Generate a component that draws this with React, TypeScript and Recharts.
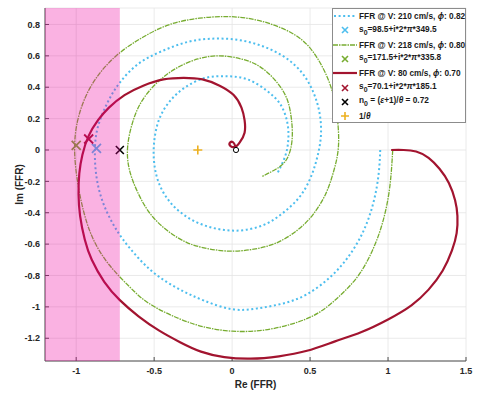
import { ScatterChart, Scatter, XAxis, YAxis, CartesianGrid, ReferenceArea } from 'recharts'

type Pt = { x: number; y: number }
const toPts = (a: number[][]): Pt[] => a.map(([x, y]) => ({ x, y }))

const xTicks = [-1, -0.5, 0, 0.5, 1, 1.5]
const yTicks = [-1.2, -1, -0.8, -0.6, -0.4, -0.2, 0, 0.2, 0.4, 0.6, 0.8]
const X_MIN = -1.2
const X_MAX = 1.5
const Y_MIN = -1.345
const Y_MAX = 0.905
const N0_EDGE = -0.72

// FFR @ V: 210 cm/s
const ffr210 = [
  [0.95, 0.0], [0.94, -0.15], [0.91, -0.32], [0.85, -0.5], [0.76, -0.66], [0.64, -0.8],
  [0.48, -0.92], [0.32, -0.98], [0.16, -1.01], [0.0, -1.015], [-0.18, -0.96], [-0.334, -0.89],
  [-0.48, -0.8], [-0.6, -0.69], [-0.7, -0.57], [-0.77, -0.46], [-0.83, -0.33], [-0.87, -0.17],
  [-0.88, 0.0], [-0.86, 0.15], [-0.8, 0.3], [-0.72, 0.43], [-0.6, 0.55], [-0.45, 0.63],
  [-0.28, 0.69], [-0.11, 0.71], [0.05, 0.7], [0.2, 0.66], [0.34, 0.59], [0.45, 0.49],
  [0.52, 0.37], [0.56, 0.24], [0.57, 0.1], [0.55, -0.03], [0.51, -0.16], [0.44, -0.29],
  [0.34, -0.39], [0.22, -0.47], [0.08, -0.51], [-0.05, -0.51], [-0.18, -0.48], [-0.3, -0.42],
  [-0.4, -0.33], [-0.47, -0.21], [-0.5, -0.08], [-0.5, 0.05], [-0.47, 0.19], [-0.4, 0.31],
  [-0.3, 0.4], [-0.17, 0.46], [-0.03, 0.47], [0.1, 0.45], [0.22, 0.38], [0.31, 0.29],
  [0.355, 0.17], [0.36, 0.06], [0.34, -0.04], [0.29, -0.15],
]

// FFR @ V: 218 cm/s
const ffr218 = [
  [1.03, 0.0], [1.02, -0.15], [1.0, -0.31], [0.96, -0.48], [0.9, -0.64], [0.81, -0.8],
  [0.69, -0.93], [0.55, -1.04], [0.38, -1.11], [0.19, -1.15], [0.0, -1.155], [-0.17, -1.13],
  [-0.34, -1.075], [-0.53, -0.98], [-0.66, -0.87], [-0.79, -0.73], [-0.89, -0.57], [-0.95, -0.4],
  [-0.99, -0.21], [-1.01, 0.0], [-0.99, 0.19], [-0.93, 0.36], [-0.84, 0.5], [-0.72, 0.62],
  [-0.57, 0.72], [-0.4, 0.8], [-0.21, 0.84], [-0.02, 0.85], [0.15, 0.83], [0.31, 0.78],
  [0.45, 0.7], [0.55, 0.58], [0.62, 0.44], [0.66, 0.3], [0.68, 0.15], [0.68, 0.0],
  [0.65, -0.14], [0.6, -0.28], [0.52, -0.41], [0.42, -0.51], [0.29, -0.59], [0.15, -0.63],
  [0.0, -0.645], [-0.15, -0.63], [-0.29, -0.59], [-0.42, -0.51], [-0.53, -0.4], [-0.61, -0.26],
  [-0.66, -0.12], [-0.67, 0.02], [-0.64, 0.17], [-0.58, 0.31], [-0.48, 0.43], [-0.36, 0.52],
  [-0.22, 0.58], [-0.08, 0.6], [0.06, 0.58], [0.18, 0.53], [0.28, 0.44], [0.35, 0.33],
  [0.38, 0.2], [0.385, 0.07], [0.36, -0.04], [0.3, -0.11], [0.19, -0.17],
]

// FFR @ V: 80 cm/s
const ffr80 = [
  [1.02, 0.0], [1.1, 0.0], [1.18, -0.01], [1.26, -0.05], [1.33, -0.12], [1.39, -0.21],
  [1.43, -0.32], [1.445, -0.42], [1.44, -0.53], [1.41, -0.64], [1.35, -0.77], [1.26, -0.89],
  [1.15, -0.99], [1.0, -1.08], [0.83, -1.16], [0.66, -1.22], [0.48, -1.28], [0.3, -1.315],
  [0.12, -1.33], [-0.05, -1.32], [-0.2, -1.285], [-0.334, -1.225], [-0.47, -1.15], [-0.6, -1.06],
  [-0.72, -0.957], [-0.82, -0.84], [-0.9, -0.7], [-0.945, -0.57], [-0.975, -0.42], [-0.985, -0.28],
  [-0.98, -0.15], [-0.96, -0.03], [-0.92, 0.09], [-0.86, 0.19], [-0.79, 0.27], [-0.69, 0.35],
  [-0.57, 0.41], [-0.44, 0.45], [-0.31, 0.46], [-0.19, 0.45], [-0.08, 0.41], [0.01, 0.35],
  [0.06, 0.27], [0.08, 0.19], [0.08, 0.11], [0.05, 0.05], [0.02, 0.02], [-0.01, 0.025],
  [-0.015, 0.045], [0.005, 0.05], [0.02, 0.025], [0.025, 0.0],
]

const s0_210 = [[-0.87, 0.01]]
const s0_218 = [[-1.0, 0.03]]
const s0_80 = [[-0.92, 0.07]]
const n0 = [[-0.72, 0.0]]
const invTheta = [[-0.22, 0.0]]
const endPoint = [[0.025, 0.0]]

const BLUE = '#4dbeee'
const GREEN = '#77ac30'
const RED = '#a2142f'
const ORANGE = '#edb120'
const FONT = '"Liberation Sans", Arial, Helvetica, sans-serif'
const AXIS = '#4d4d4d'

const NoDot = () => <g />

const makeCross = (color: string, r: number, w = 1.6) => (p: any) => (
  <path
    d={`M${p.cx - r},${p.cy - r}L${p.cx + r},${p.cy + r}M${p.cx - r},${p.cy + r}L${p.cx + r},${p.cy - r}`}
    stroke={color}
    strokeWidth={w}
    fill="none"
  />
)
const makePlus = (color: string, r: number) => (p: any) => (
  <path d={`M${p.cx - r},${p.cy}L${p.cx + r},${p.cy}M${p.cx},${p.cy - r}L${p.cx},${p.cy + r}`} stroke={color} strokeWidth={1.6} />
)
const makeRing = (p: any) => <circle cx={p.cx} cy={p.cy} r={2.6} stroke="#000" strokeWidth={1} fill="#fff" />

const tickStyle = { fill: '#262626', fontSize: 9, fontWeight: 700, fontFamily: FONT }

type Row = { kind: 'dot' | 'dash' | 'solid' | 'x' | 'plus'; color: string; label: React.ReactNode }
const legendRows: Row[] = [
  { kind: 'dot', color: BLUE, label: <>FFR @ V: 210 cm/s, <i>ϕ</i>: 0.82</> },
  { kind: 'x', color: BLUE, label: <>s<sub>0</sub>=98.5+i*2*<i>π</i>*349.5</> },
  { kind: 'dash', color: GREEN, label: <>FFR @ V: 218 cm/s, <i>ϕ</i>: 0.80</> },
  { kind: 'x', color: GREEN, label: <>s<sub>0</sub>=171.5+i*2*<i>π</i>*335.8</> },
  { kind: 'solid', color: RED, label: <>FFR @ V: 80 cm/s, <i>ϕ</i>: 0.70</> },
  { kind: 'x', color: RED, label: <>s<sub>0</sub>=70.1+i*2*<i>π</i>*185.1</> },
  { kind: 'x', color: '#000', label: <>n<sub>0</sub> = (<i>ε</i>+1)/<i>θ</i> = 0.72</> },
  { kind: 'plus', color: ORANGE, label: <>1/<i>θ</i></> },
]

function Glyph({ kind, color }: { kind: Row['kind']; color: string }) {
  return (
    <svg width={24} height={14} style={{ display: 'block' }}>
      {kind === 'dot' && <line x1={1} y1={7} x2={23} y2={7} stroke={color} strokeWidth={2} strokeDasharray="2 2.6" />}
      {kind === 'dash' && <line x1={0} y1={7} x2={24} y2={7} stroke={color} strokeWidth={1.3} strokeDasharray="5 1 1.5 1" />}
      {kind === 'solid' && <line x1={0} y1={7} x2={24} y2={7} stroke={color} strokeWidth={2.2} />}
      {kind === 'x' && <path d="M9,4L15,10M9,10L15,4" stroke={color} strokeWidth={1.6} />}
      {kind === 'plus' && <path d="M8,7L16,7M12,3L12,11" stroke={color} strokeWidth={1.6} />}
    </svg>
  )
}

function LegendBox() {
  return (
    <div
      style={{
        position: 'absolute', left: 332, top: 8, width: 134, height: 115, boxSizing: 'border-box',
        background: '#fff', border: '1px solid #8c8c8c', fontFamily: FONT, fontWeight: 700,
        fontSize: 8.3, color: '#1a1a1a',
      }}
    >
      {legendRows.map((r, i) => (
        <div key={i} style={{ display: 'flex', alignItems: 'center', height: 14.3, whiteSpace: 'nowrap' }}>
          <div style={{ width: 26, flex: 'none' }}><Glyph kind={r.kind} color={r.color} /></div>
          <span style={{ lineHeight: '10px' }}>{r.label}</span>
        </div>
      ))}
    </div>
  )
}

export default function App() {
  return (
    <div style={{ position: 'absolute', left: 0, top: 0, width: 492, height: 395, background: '#fff' }}>
      <ScatterChart width={492} height={395} margin={{ top: 8, right: 26, bottom: 0, left: 0 }}>
        <CartesianGrid stroke="#e4e4e4" strokeWidth={0.8} />
        <XAxis
          type="number" dataKey="x" domain={[X_MIN, X_MAX]} ticks={xTicks} allowDataOverflow height={34}
          tick={tickStyle} tickSize={-4} tickMargin={11} stroke={AXIS}
          label={{ value: 'Re (FFR)', position: 'insideBottom', offset: 7, style: { fill: '#262626', fontSize: 10, fontWeight: 700, fontFamily: FONT } }}
        />
        <YAxis
          type="number" dataKey="y" domain={[Y_MIN, Y_MAX]} ticks={yTicks} allowDataOverflow width={45}
          tick={tickStyle} tickSize={-4} tickMargin={9} stroke={AXIS}
          label={{ value: 'Im (FFR)', angle: -90, position: 'insideLeft', offset: 19, style: { textAnchor: 'middle', fill: '#262626', fontSize: 10, fontWeight: 700, fontFamily: FONT } }}
        />
        <XAxis
          xAxisId="top" orientation="top" type="number" domain={[X_MIN, X_MAX]} ticks={xTicks} height={0}
          tickSize={-4} tickFormatter={() => ''} stroke={AXIS}
        />
        <YAxis
          yAxisId="right" orientation="right" type="number" domain={[Y_MIN, Y_MAX]} ticks={yTicks} width={0}
          tickSize={-4} tickFormatter={() => ''} stroke={AXIS}
        />
        <Scatter data={toPts(ffr210)} line={{ stroke: BLUE, strokeWidth: 2, strokeDasharray: '2 2.6' }} lineType="joint" lineJointType="natural" shape={NoDot} isAnimationActive={false} />
        <Scatter data={toPts(ffr218)} line={{ stroke: GREEN, strokeWidth: 1.3, strokeDasharray: '5 1 1.5 1' }} lineType="joint" lineJointType="natural" shape={NoDot} isAnimationActive={false} />
        <Scatter data={toPts(ffr80)} line={{ stroke: RED, strokeWidth: 2.2 }} lineType="joint" lineJointType="natural" shape={NoDot} isAnimationActive={false} />
        <Scatter data={toPts(s0_210)} shape={makeCross(BLUE, 4.5, 1.8)} isAnimationActive={false} />
        <Scatter data={toPts(s0_218)} shape={makeCross(GREEN, 4.5, 1.8)} isAnimationActive={false} />
        <Scatter data={toPts(s0_80)} shape={makeCross(RED, 4.5, 1.8)} isAnimationActive={false} />
        <Scatter data={toPts(n0)} shape={makeCross('#000', 4, 1.6)} isAnimationActive={false} />
        <Scatter data={toPts(invTheta)} shape={makePlus(ORANGE, 4.5)} isAnimationActive={false} />
        <Scatter data={toPts(endPoint)} shape={makeRing} isAnimationActive={false} />
        <ReferenceArea
          x1={X_MIN} x2={N0_EDGE} y1={Y_MIN} y2={Y_MAX} fill="#f000a0" fillOpacity={0.3} stroke="none"
          ifOverflow="hidden" zIndex={1500}
        />
      </ScatterChart>
      <LegendBox />
    </div>
  )
}
